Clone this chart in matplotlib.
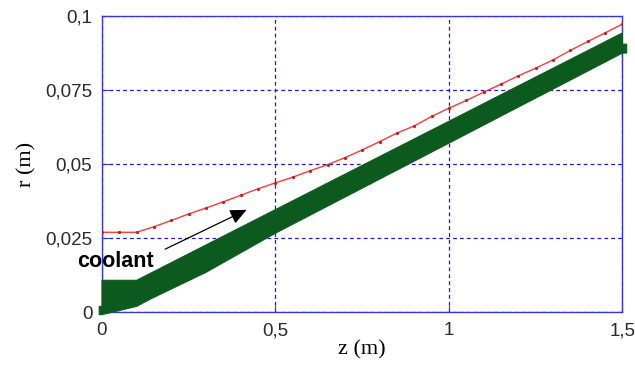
import matplotlib
matplotlib.use("Agg")
import matplotlib.pyplot as plt
import numpy as np

# red curve: points every 0.05 m
z_red = np.round(np.arange(0, 1.501, 0.05), 2)
r_red = [0.027, 0.027, 0.027, 0.0289, 0.0310, 0.0332, 0.0352, 0.0373, 0.0395, 0.0417,
         0.0437, 0.0456, 0.0478, 0.0498, 0.0522, 0.0548, 0.0576, 0.0605, 0.0629, 0.0661,
         0.0689, 0.0715, 0.0743, 0.0770, 0.0798, 0.0824, 0.0852, 0.0884, 0.0914, 0.0943,
         0.0973]

# green wall outline (upper edge then lower edge back)
wall_z_top = [0.0, 0.1, 1.5, 1.5, 1.512]
wall_r_top = [0.0108, 0.0108, 0.0943, 0.0905, 0.0905]
wall_z_bot = [1.512, 1.5, 1.0, 0.5, 0.3, 0.14, 0.1, 0.0, -0.008, -0.008, 0.0]
wall_r_bot = [0.0875, 0.0875, 0.0571, 0.0267, 0.0135, 0.0045, 0.002, -0.0008,
              -0.0008, 0.002, 0.002]

x_ticks = [0, 0.5, 1, 1.5]
x_labels = ["0", "0,5", "1", "1,5"]
y_ticks = [0, 0.025, 0.05, 0.075, 0.1]
y_labels = ["0", "0,025", "0,05", "0,075", "0,1"]

arrow_tail = (0.182, 0.0213)
arrow_tip = (0.417, 0.0346)

blue = "#3838d0"

fig = plt.figure(figsize=(6.35, 3.72), dpi=100)
ax = fig.add_axes([0.1606, 0.1605, 0.8197, 0.7965])

ax.fill(wall_z_top + wall_z_bot, wall_r_top + wall_r_bot, color="#0c5a1e",
        lw=0.8, ec="#0c5a1e", clip_on=False, zorder=3)

ax.plot(z_red, r_red, color="#ff3b3b", lw=1.0, marker="o", ms=1.3,
        mfc="#c02020", mec="#c02020", zorder=4)

ax.annotate("", xy=arrow_tip, xytext=arrow_tail,
            arrowprops=dict(arrowstyle="-|>,head_length=1.0,head_width=0.45",
                            color="black", lw=0.9, shrinkA=0, shrinkB=0), zorder=5)
ax.text(-0.073, 0.0154, "coolant", fontsize=15.5, fontweight="bold",
        family="Liberation Sans", ha="left", va="baseline", zorder=6)

ax.set_xlim(0, 1.5)
ax.set_ylim(0, 0.1)
ax.set_xticks(x_ticks)
ax.set_xticklabels(x_labels)
ax.set_yticks(y_ticks)
ax.set_yticklabels(y_labels)
ax.tick_params(direction="in", length=5, color=blue, labelsize=13.5,
               labelcolor="#2a2a2a", pad=7)
for lab in ax.get_xticklabels() + ax.get_yticklabels():
    lab.set_family("Liberation Sans")
for s in ax.spines.values():
    s.set_color(blue)
    s.set_linewidth(1.0)

ax.grid(True, color="#1a1acc", linestyle=(0, (3, 2.5)), lw=0.9)

ax.set_xlabel("z (m)", family="Liberation Serif", fontsize=16, labelpad=1)
ax.set_ylabel("r (m)", family="Liberation Serif", fontsize=16, labelpad=6)

fig.savefig("out.png", dpi=100)
